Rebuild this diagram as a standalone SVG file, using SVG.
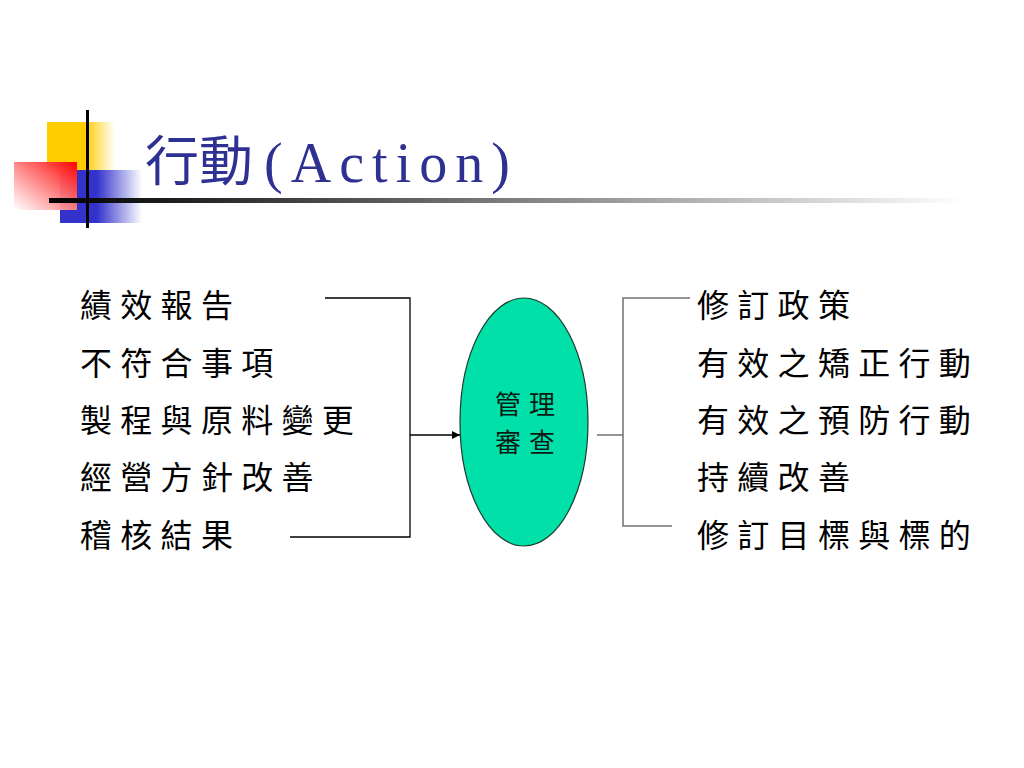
<svg xmlns="http://www.w3.org/2000/svg" width="1024" height="768" viewBox="0 0 1024 768">
  <style>
    .item { font-family: "Noto Sans CJK TC", "Noto Sans CJK SC", sans-serif; font-size: 32px; letter-spacing: 8.3px; fill: #000; }
    .node-text { font-family: "Noto Sans CJK TC", "Noto Sans CJK SC", sans-serif; font-size: 26px; letter-spacing: 8px; fill: #0a1a14; text-anchor: middle; }
    .title { fill: #2e3192; }
    .title-cjk { font-family: "Noto Sans CJK TC", "Noto Sans CJK SC", sans-serif; font-size: 54px; }
    .title-latin { font-family: "Liberation Serif", "Times New Roman", serif; font-size: 56px; }
    .lineL { stroke: #000; stroke-width: 1.3; fill: none; }
    .lineR { stroke: #707070; stroke-width: 1.5; fill: none; }
  </style>
  <defs>
    <linearGradient id="gYellow" x1="0" y1="0" x2="1" y2="0">
      <stop offset="0" stop-color="#FFCC00"/>
      <stop offset="0.55" stop-color="#FFCC00"/>
      <stop offset="1" stop-color="#FFCC00" stop-opacity="0"/>
    </linearGradient>
    <linearGradient id="gBlue" x1="0" y1="0" x2="1" y2="0">
      <stop offset="0" stop-color="#3333CC"/>
      <stop offset="0.45" stop-color="#3333CC"/>
      <stop offset="1" stop-color="#3333CC" stop-opacity="0"/>
    </linearGradient>
    <linearGradient id="gRed" x1="1" y1="0" x2="0" y2="1">
      <stop offset="0" stop-color="#FF0000"/>
      <stop offset="1" stop-color="#FFFFFF" stop-opacity="0.9"/>
    </linearGradient>
    <linearGradient id="gRule" x1="0" y1="0" x2="1" y2="0">
      <stop offset="0" stop-color="#000"/>
      <stop offset="0.15" stop-color="#222"/>
      <stop offset="1" stop-color="#FFFFFF"/>
    </linearGradient>
    <marker id="arrow" viewBox="0 0 10 10" refX="10" refY="5" markerWidth="8" markerHeight="8" markerUnits="userSpaceOnUse" orient="auto">
      <path d="M0,0 L10,5 L0,10 z" fill="#000"/>
    </marker>
  </defs>

  <rect width="1024" height="768" fill="#fff"/>

  <g id="decoration">
    <rect x="47" y="122" width="68" height="48" fill="url(#gYellow)"/>
    <rect x="60" y="170" width="82" height="53" fill="url(#gBlue)"/>
    <rect x="14" y="162" width="63" height="48" fill="url(#gRed)"/>
    <rect x="49" y="198" width="915" height="5" fill="url(#gRule)"/>
    <rect x="86" y="110" width="3" height="118" fill="#000"/>
  </g>

  <g id="title">
    <text x="145" y="181" class="title title-cjk">行動</text>
    <text x="264" y="182" class="title title-latin" textLength="246" lengthAdjust="spacing">(Action)</text>
  </g>

  <g id="inputs">
    <text class="item" x="80" y="317">績效報告</text>
    <text class="item" x="80" y="375">不符合事項</text>
    <text class="item" x="80" y="432">製程與原料變更</text>
    <text class="item" x="80" y="489">經營方針改善</text>
    <text class="item" x="80" y="547">稽核結果</text>
  </g>

  <g id="review">
    <ellipse cx="524" cy="422" rx="64" ry="124" fill="#00E0A8" stroke="#1a3a2a" stroke-width="1.2"/>
    <text class="node-text" x="529" y="414">管理</text>
    <text class="node-text" x="529" y="452">審查</text>
  </g>

  <g id="outputs">
    <text class="item" x="697" y="317">修訂政策</text>
    <text class="item" x="697" y="375">有效之矯正行動</text>
    <text class="item" x="697" y="432">有效之預防行動</text>
    <text class="item" x="697" y="489">持續改善</text>
    <text class="item" x="697" y="547">修訂目標與標的</text>
  </g>

  <g id="connectors">
    <polyline class="lineL" points="325,298 410,298 410,537 290,537"/>
    <line class="lineL" x1="410" y1="435" x2="460" y2="435" marker-end="url(#arrow)"/>
    <polyline class="lineR" points="690,298 623,298 623,526 672,526"/>
    <line class="lineR" x1="597" y1="435" x2="623" y2="435"/>
  </g>
</svg>
